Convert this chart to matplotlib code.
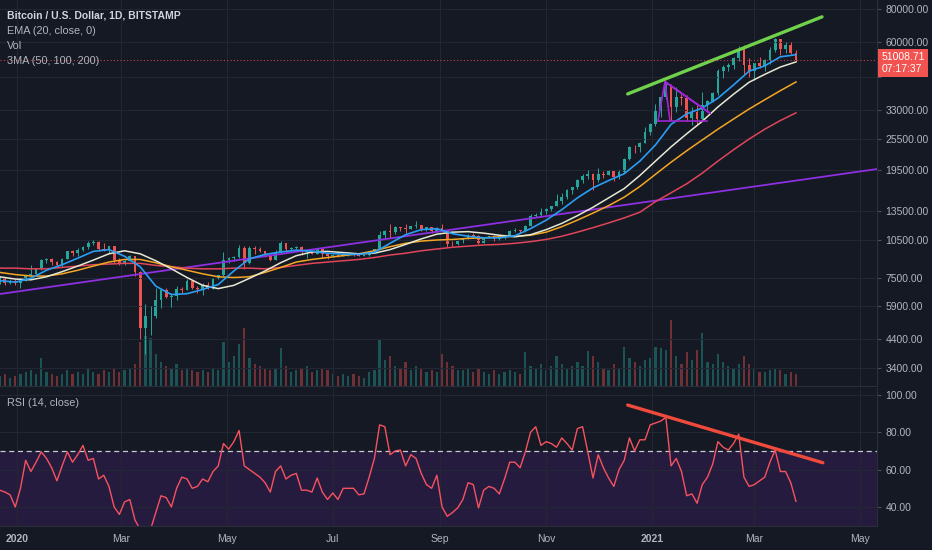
import numpy as np
import matplotlib.pyplot as plt

# x = days counted from 2020-01-01, one candle per 3 days
start_day = -10
step = 3
first_open = 7300

close = [7500, 7200, 7300, 7200, 7350, 7750, 7820, 8180, 8820, 8900,
         8650, 8450, 8900, 9500, 9330, 9620, 9880, 10250, 10350, 9700,
         9600, 9950, 8800, 8550, 8750, 9120, 7930, 4850, 5370, 5400,
         6200, 6750, 6370, 6430, 6800, 6780, 7350, 6880, 6850, 7100,
         6850, 7500, 7700, 8800, 8980, 9020, 9800, 8600, 9800, 9680,
         9500, 9170, 8840, 9420, 10200, 9660, 9750, 9880, 9460, 9520,
         9310, 9680, 9250, 9120, 9230, 9130, 9250, 9280, 9240, 9130,
         9180, 9530, 9700, 10950, 11350, 11220, 11760, 11680, 11580, 11850,
         11980, 11530, 11750, 11320, 11710, 11400, 10170, 10130, 10390, 10680,
         10950, 10920, 10240, 10730, 10840, 10570, 10790, 10920, 11380, 11430,
         11360, 11910, 12990, 13040, 13460, 13740, 14140, 14820, 15300, 16300,
         16720, 17800, 18400, 18740, 17720, 18780, 18660, 19200, 18250, 19150,
         21300, 23850, 23830, 24700, 27040, 28990, 33000, 36800, 40100, 33900,
         36800, 36600, 30800, 32300, 30400, 34300, 35500, 38300, 46400, 47900,
         48700, 52100, 56000, 48800, 46300, 49600, 48400, 51200, 55900, 61200,
         56100, 58300, 54100, 51008.71]

high = [7650, 7600, 7450, 7450, 7500, 7800, 8450, 8200, 8900, 9000,
        8950, 8750, 8950, 9550, 9600, 9750, 9950, 10400, 10500, 10400,
        10200, 10000, 9950, 8950, 8850, 9200, 9150, 8000, 6000, 5900,
        6900, 6850, 6900, 6600, 7000, 6950, 7450, 7400, 7000, 7200,
        7250, 7550, 7750, 9450, 9050, 9100, 10050, 9950, 9950, 9950,
        9850, 9550, 9250, 9600, 10400, 10200, 9850, 9950, 9950, 9550,
        9550, 9750, 9700, 9300, 9300, 9250, 9350, 9450, 9350, 9250,
        9200, 9550, 9700, 11400, 11450, 12050, 11850, 11800, 12050, 11900,
        12450, 12000, 11750, 11600, 11750, 12050, 11450, 10400, 10450, 10700,
        11050, 11150, 10950, 10750, 10900, 10950, 10800, 10950, 11450, 11700,
        11450, 11950, 13200, 13350, 13850, 13850, 14200, 15750, 15800, 16450,
        16800, 18000, 18800, 19400, 18900, 19850, 19300, 19400, 19300, 19400,
        21550, 24000, 24200, 24800, 28400, 29300, 34800, 37000, 41950, 41300,
        40100, 37900, 37400, 33800, 34900, 38500, 35900, 38700, 47000, 48900,
        49700, 52600, 57500, 58300, 52000, 49800, 52600, 51400, 57300, 61750,
        61200, 60000, 59900, 55800]

low = [7150, 7100, 7150, 7100, 6900, 7300, 7700, 7700, 8100, 8600,
       8450, 8300, 8250, 8850, 9150, 9150, 9550, 9700, 10050, 9500,
       9500, 9350, 8550, 8450, 8450, 8700, 7650, 4400, 3850, 4550,
       5300, 5800, 6300, 5850, 6200, 6600, 6750, 6800, 6600, 6500,
       6800, 6800, 7450, 7650, 8600, 8750, 9000, 8150, 8500, 9300,
       9450, 9050, 8700, 8800, 9400, 9400, 9550, 9700, 9200, 8950,
       9250, 9250, 9000, 8850, 9050, 9050, 9100, 9150, 9150, 9100,
       9100, 9150, 9450, 9650, 10600, 10650, 11050, 11400, 11150, 11550,
       11700, 11400, 11350, 11150, 11300, 11350, 9900, 9950, 10050, 10250,
       10600, 10800, 10150, 10200, 10650, 10400, 10500, 10550, 10900, 11250,
       11200, 11250, 11900, 12900, 12900, 13200, 13500, 14100, 14400, 15100,
       15750, 16500, 17400, 18000, 16300, 17500, 18100, 18550, 17650, 17900,
       19000, 21200, 22600, 22800, 24600, 26500, 28700, 31000, 36300, 30250,
       32400, 34400, 30000, 28800, 29200, 30000, 32200, 35300, 37400, 43700,
       46300, 47000, 50700, 45000, 44100, 43000, 47600, 46300, 49300, 55000,
       53300, 54200, 53700, 50500]

volume = [5, 6, 4, 5, 6, 7, 8, 6, 14, 7,
          6, 5, 6, 8, 6, 7, 6, 9, 7, 6,
          8, 7, 9, 7, 8, 9, 11, 22, 25, 24,
          16, 12, 10, 9, 11, 8, 9, 8, 7, 8,
          7, 9, 8, 22, 12, 15, 21, 29, 14, 11,
          10, 9, 8, 9, 19, 10, 7, 8, 9, 10,
          7, 8, 9, 8, 6, 5, 6, 5, 6, 5,
          4, 7, 8, 23, 13, 15, 10, 9, 12, 8,
          10, 9, 7, 8, 7, 16, 12, 10, 8, 8,
          9, 7, 9, 7, 6, 8, 6, 7, 8, 7,
          6, 17, 10, 9, 11, 8, 10, 15, 11, 9,
          10, 12, 10, 17.5, 15, 12, 9, 8, 11, 9,
          19.5, 14, 12, 10, 13, 14, 19.5, 19, 18, 33,
          15, 11, 17, 13, 18, 26.5, 12, 11, 16, 12,
          10, 9, 11, 15, 11, 9, 7, 7, 8, 9,
          8, 6, 7, 6]

rsi = [49, 48, 46.5, 40, 50, 65, 59, 64, 69.5, 66,
       61, 54, 62, 69.5, 64, 68, 73, 65, 66, 55,
       57, 51, 40, 36, 42.7, 44, 33, 28, 24, 28,
       37, 46, 45, 40, 50, 56, 55, 50, 51, 55,
       53.5, 59, 62, 74, 71, 75, 81, 62, 60, 58,
       56, 53, 48, 59, 62, 55, 57, 58, 49, 49,
       48, 55.5, 48, 44, 47.5, 44, 50, 50, 50, 46.5,
       47, 56, 66, 84, 83, 68, 70, 70.5, 62, 68,
       66, 58, 52, 50, 57, 40, 35, 37, 39.5, 44,
       53, 52, 39.5, 49, 51, 50, 47, 55, 64, 64,
       61, 69.5, 80, 83, 73, 75, 74, 72, 77, 74,
       70.5, 82, 83, 69.5, 55.5, 68, 61, 55.5, 51, 60,
       65, 77, 70, 76, 76, 84, 85, 86, 88, 62,
       66, 59, 46, 47, 42, 52, 56, 63, 75, 72,
       70.5, 74, 79, 56, 51, 52, 54, 56, 64, 70.5,
       59, 59, 53, 43]

# moving averages read every 9 days
ma_start = -10
ma_step = 9
ema20 = [7350, 7250, 7500, 8050, 8450, 8950, 9500, 9650, 9100, 8300,
         7000, 6500, 6550, 6800, 7100, 8000, 8900, 9250, 9450, 9600,
         9530, 9350, 9270, 9250, 9420, 10200, 11000, 11500, 11600, 11100,
         10850, 10700, 10700, 10900, 11600, 12500, 13700, 15200, 16600, 17700,
         18800, 21000, 24200, 29000, 31800, 33500, 36500, 41000, 46300, 48500,
         52500, 53500]
sma50 = [7600, 7450, 7400, 7600, 7950, 8350, 8800, 9300, 9550, 9300,
         8750, 8150, 7550, 7050, 6850, 7050, 7500, 8000, 8600, 9150,
         9450, 9500, 9400, 9300, 9350, 9650, 10100, 10600, 11050, 11250,
         11300, 11150, 10950, 10800, 11000, 11500, 12150, 13000, 14000, 15200,
         16500, 18500, 21000, 23800, 26700, 29800, 33800, 37800, 42000, 45000,
         48000, 50200]
sma100 = [7900, 7750, 7650, 7650, 7800, 8050, 8350, 8650, 8850, 8850,
          8600, 8300, 8050, 7800, 7600, 7550, 7600, 7900, 8250, 8650,
          8850, 9000, 9150, 9300, 9550, 9900, 10200, 10400, 10500, 10550,
          10650, 10700, 10800, 10850, 10950, 11250, 11800, 12500, 13300, 14200,
          15300, 16800, 18700, 20800, 23000, 25300, 27800, 30400, 33200, 36000,
          39000, 42100]
sma200 = [8200, 8200, 8150, 8150, 8250, 8350, 8450, 8500, 8550, 8550,
          8400, 8300, 8200, 8150, 8150, 8200, 8200, 8150, 8250, 8400,
          8550, 8650, 8750, 8850, 9000, 9200, 9350, 9550, 9700, 9850,
          9950, 10050, 10100, 10200, 10350, 10550, 10850, 11250, 11700, 12200,
          12750, 13400, 14700, 15900, 17200, 18900, 21000, 23200, 25500, 27800,
          30000, 32100]

price_ticks = [3400, 4400, 5900, 7500, 10500, 13500, 19500, 25500, 33000, 44000, 60000, 80000]
rsi_ticks = [40, 60, 80, 100]
month_days = [0, 60, 121, 182, 244, 305, 366, 425, 486]
month_labels = ['2020', 'Mar', 'May', 'Jul', 'Sep', 'Nov', '2021', 'Mar', 'May']
last_price = 51008.71
countdown = '07:17:37'

# hand drawn lines (days, values)
green_days, green_vals = [352, 464], [37900, 74600]
purple_days, purple_vals = [-10, 496], [6530, 19600]
tri_days = [369.5, 373.5, 399.4, 373.5, 376.4]
tri_vals = [29900, 42200, 32000, 42200, 29900]
base_days, base_vals = [369.5, 397.7], [29900, 29900]
rsi_tl_days, rsi_tl_vals = [352, 464.5], [94.6, 63.7]

bg = '#151924'
grid = '#232733'
txt = '#b2b5be'
up, down = '#26a69a', '#ef5350'

plt.rcParams['font.family'] = ['Liberation Sans', 'DejaVu Sans']

W, H = 932, 550
fig = plt.figure(figsize=(W / 100, H / 100), dpi=100, facecolor=bg)
ax = fig.add_axes([0, 1 - 386 / H, 877 / W, 386 / H])
axr = fig.add_axes([0, 1 - 526 / H, 877 / W, 138 / H], sharex=ax)
axv = ax.twinx()

x = start_day + step * np.arange(len(close))
xm = ma_start + ma_step * np.arange(len(ema20))
opens = [first_open] + close[:-1]
cols = [up if c >= o else down for o, c in zip(opens, close)]

# volume, behind candles
axv.bar(x, volume, width=1.3, color=cols, alpha=0.42, linewidth=0)
axv.set_ylim(0, 193)
axv.axis('off')
ax.set_zorder(axv.get_zorder() + 1)
ax.patch.set_visible(False)

# candles
ax.vlines(x, low, high, colors=cols, linewidth=0.7)
bot = [min(o, c) for o, c in zip(opens, close)]
hgt = [abs(c - o) for o, c in zip(opens, close)]
ax.bar(x, hgt, bottom=bot, width=1.6, color=cols, linewidth=0)

ax.plot(purple_days, purple_vals, color='#8e2fe0', lw=1.3)
ax.plot(xm, sma200, color='#e0455a', lw=1.1)
ax.plot(xm, sma100, color='#f5a623', lw=1.1)
ax.plot(xm, sma50, color='#e6e8d2', lw=1.1)
ax.plot(xm, ema20, color='#2a9df4', lw=1.2)
ax.plot(green_days, green_vals, color='#6fd24a', lw=2.4, solid_capstyle='round')
ax.plot(tri_days, tri_vals, color='#9c27d0', lw=1.2)
ax.plot(base_days, base_vals, color='#9c27d0', lw=1.2)
ax.axhline(last_price, color='#e8505b', lw=0.8, ls=(0, (1, 2)), alpha=0.8)

ax.set_yscale('log')
ax.set_ylim(2911, 86500)
ax.set_xlim(-9.8, 495.7)
ax.yaxis.set_minor_locator(plt.NullLocator())
ax.set_yticks(price_ticks, ['' if t == 44000 else '%.2f' % t for t in price_ticks])
ax.yaxis.tick_right()
ax.tick_params(axis='y', colors='#4a4e59', labelcolor=txt, labelsize=7.5, length=3, pad=3)
ax.tick_params(axis='x', length=0, labelbottom=False)
ax.grid(True, color=grid, lw=0.8)
for s in ['top', 'left']:
    ax.spines[s].set_visible(False)
ax.spines['right'].set_color('#2a2e39')
ax.spines['bottom'].set_color('#2a2e39')

ax.annotate('%.2f\n%s' % (last_price, countdown), xy=(1, last_price),
            xycoords=ax.get_yaxis_transform(), xytext=(3, 6), textcoords='offset points',
            va='top', ha='left', color='white', fontsize=7.5, linespacing=1.3,
            bbox=dict(boxstyle='square,pad=0.3', fc='#f05350', ec='none'), annotation_clip=False)

# RSI pane
axr.set_facecolor(bg)
axr.axhspan(30, 70, color='#251b3e', lw=0)
axr.axhline(70, color='#c8cad0', lw=0.9, ls=(0, (4, 3)))
axr.plot(x, rsi, color='#f7525f', lw=1.0)
axr.plot(rsi_tl_days, rsi_tl_vals, color='#f04a3c', lw=2.4, solid_capstyle='round')
axr.set_ylim(29.8, 103.75)
axr.set_yticks(rsi_ticks, ['%.2f' % t for t in rsi_ticks])
axr.yaxis.tick_right()
axr.tick_params(axis='y', colors='#4a4e59', labelcolor=txt, labelsize=7.5, length=3, pad=3)
axr.set_xticks(month_days, month_labels)
axr.tick_params(axis='x', length=0, labelcolor=txt, labelsize=7.5, pad=6)
for lab in axr.get_xticklabels():
    if lab.get_text() in ('2020', '2021'):
        lab.set_fontweight('bold')
axr.grid(True, color=grid, lw=0.8)
for s in ['top', 'left']:
    axr.spines[s].set_visible(False)
axr.spines['right'].set_color('#2a2e39')
axr.spines['bottom'].set_color('#2a2e39')

# legend texts
def px(xp, yp):
    return xp / W, 1 - yp / H

fig.text(*px(7, 15), 'Bitcoin / U.S. Dollar, 1D, BITSTAMP', color='#d1d4dc', fontsize=7.5,
         fontweight='bold', va='center')
fig.text(*px(7, 31), 'EMA (20, close, 0)', color=txt, fontsize=7.8, va='center')
fig.text(*px(7, 46), 'Vol', color=txt, fontsize=7.8, va='center')
fig.text(*px(7, 61), '3MA (50, 100, 200)', color=txt, fontsize=7.8, va='center')
fig.text(*px(7, 403), 'RSI (14, close)', color=txt, fontsize=7.8, va='center')

fig.savefig('out.png', dpi=100, facecolor=bg)
